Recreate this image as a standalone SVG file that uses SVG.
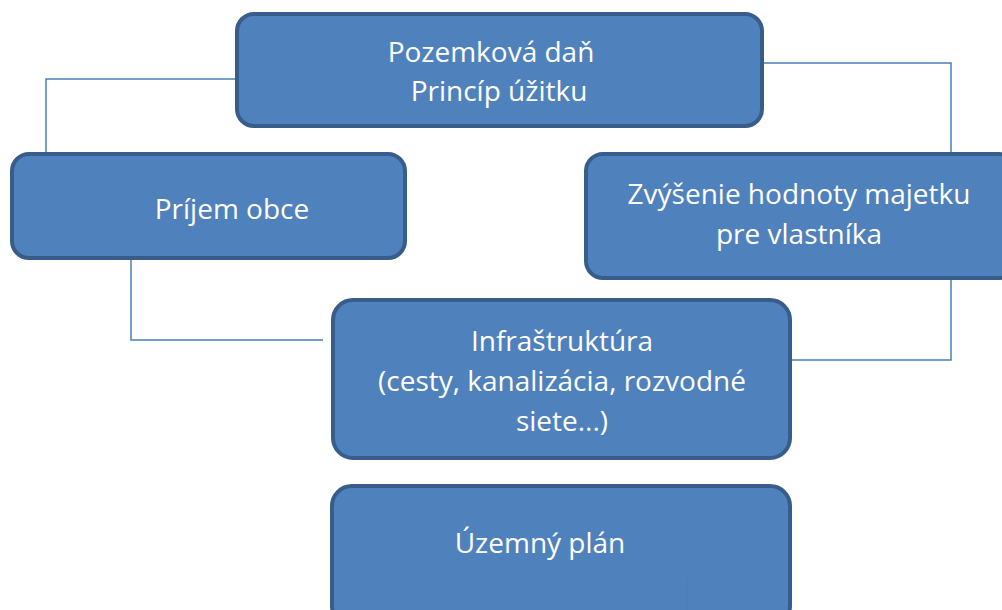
<svg xmlns="http://www.w3.org/2000/svg" width="1002" height="610" viewBox="0 0 1002 610">
<style>
.box{fill:#4F81BD;stroke:#385D8A;stroke-width:4}
.lbl{font-family:"Open Sans","Liberation Sans",sans-serif;font-size:28px;fill:#FFFFFF;text-anchor:middle}
.con{fill:none;stroke:#4A7EBB;stroke-width:1.5}
</style>
<rect width="1002" height="610" fill="#FFFFFF"/>
<g id="connectors">
<polyline class="con" points="237,79 46,79 46,175"/>
<polyline class="con" points="762,63 951,63 951,154"/>
<polyline class="con" points="131,259 131,340 323,340"/>
<polyline class="con" points="951,279 951,360 773,360"/>
</g>
<g id="node-pozemkova">
<rect class="box" x="237" y="14" width="525" height="112" rx="17"/>
<text class="lbl" x="491" y="62">Pozemková daň</text>
<text class="lbl" x="499" y="101">Princíp úžitku</text>
</g>
<g id="node-prijem">
<rect class="box" x="12" y="154" width="393" height="104" rx="17"/>
<text class="lbl" x="232" y="219">Príjem obce</text>
</g>
<g id="node-zvysenie">
<rect class="box" x="586" y="154" width="430" height="124" rx="17"/>
<text class="lbl" x="799" y="204">Zvýšenie hodnoty majetku</text>
<text class="lbl" x="799" y="244">pre vlastníka</text>
</g>
<g id="node-infra">
<rect class="box" x="333" y="300" width="457" height="158" rx="20"/>
<text class="lbl" x="562" y="351">Infraštruktúra</text>
<text class="lbl" x="562" y="391">(cesty, kanalizácia, rozvodné</text>
<text class="lbl" x="562" y="431">siete...)</text>
</g>
<g id="node-uzemny">
<rect class="box" x="332" y="486" width="458" height="140" rx="20"/>
<text class="lbl" x="540" y="553">Územný plán</text>
</g>
<line class="con" x1="687" y1="577" x2="687" y2="610" stroke-opacity="0.4"/>
</svg>
